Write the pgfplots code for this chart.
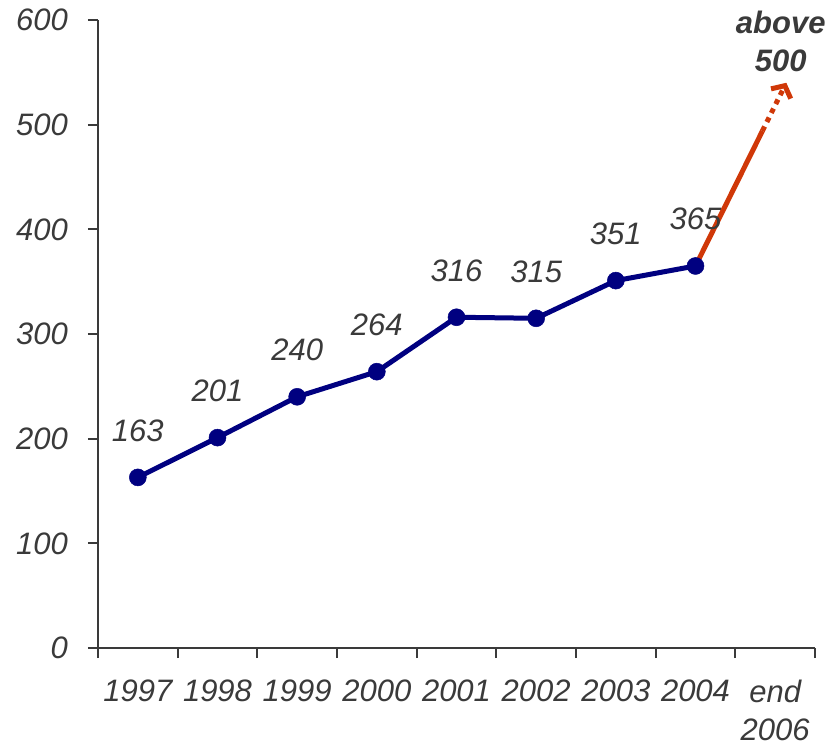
\documentclass[border=0pt]{standalone}
\usepackage{pgfplots}
\pgfplotsset{compat=1.18}
\usepackage{fontspec}
\setmainfont{Liberation Sans}
\usetikzlibrary{arrows.meta}
\definecolor{navy}{RGB}{0,0,128}
\definecolor{arrowred}{RGB}{208,56,8}
\definecolor{txt}{RGB}{58,58,58}
\begin{document}
\begin{tikzpicture}
\path[use as bounding box] (-98pt,-98pt) rectangle (734pt,648pt);
\begin{axis}[
  at={(0,0)}, anchor=south west,
  scale only axis, width=717pt, height=628pt,
  xmin=-0.5, xmax=8.5, ymin=0, ymax=600,
  axis lines*=left,
  axis line style={txt, line width=2pt},
  xtick={-0.5,0.5,1.5,2.5,3.5,4.5,5.5,6.5,7.5,8.5},
  x tick label as interval,
  xticklabels={1997,1998,1999,2000,2001,2002,2003,2004,{end\\2006}},
  ytick={0,100,...,600},
  tick align=outside, major tick length=10pt,
  tick style={txt, line width=2pt},
  ticklabel style={font=\fontsize{31}{38}\selectfont\itshape, text=txt},
  /pgf/number format/assume math mode=true,
  xticklabel style={align=center, anchor=north, inner sep=0pt, yshift=-22pt},
  yticklabel style={anchor=east, inner sep=0pt, xshift=-20pt},
  clip=false,
]
\addplot[arrowred, line width=5pt] coordinates {(7,365) (7.84,494)};
\addplot[arrowred, line width=5pt, dash pattern=on 5pt off 5pt,
  -{Straight Barb[length=9pt, width=22pt, line width=5pt]}] coordinates {(7.84,494) (8.14,540)};
\addplot[navy, line width=5pt, mark=*, mark size=8.5pt,
  mark options={solid, fill=navy, draw=navy, line width=0.5pt},
  nodes near coords,
  every node near coord/.append style={font=\fontsize{31}{38}\selectfont\itshape, text=txt, anchor=base, inner sep=0pt, yshift=36pt}]
  coordinates {(0,163) (1,201) (2,240) (3,264) (4,316) (5,315) (6,351) (7,365)};
\node[font=\fontsize{31}{38}\selectfont\bfseries\itshape, text=txt, align=center] at (axis cs:8.07,580) {above\\500};
\draw[txt, line width=2pt] (rel axis cs:0,0) -- ++(-10pt,0);
\end{axis}
\end{tikzpicture}
\end{document}
